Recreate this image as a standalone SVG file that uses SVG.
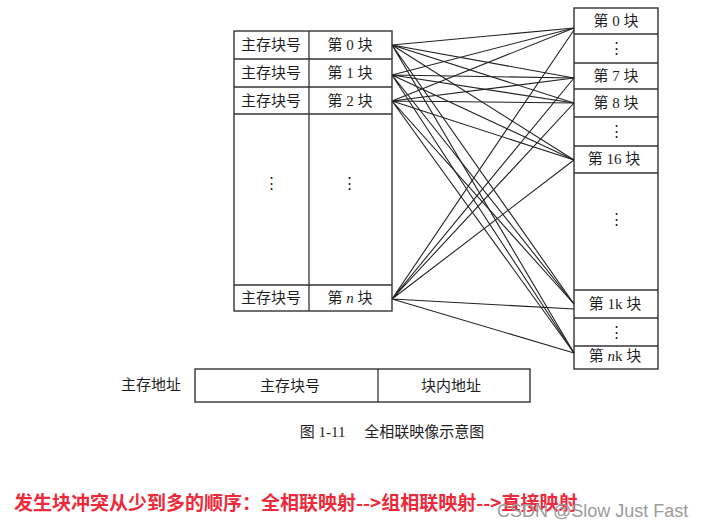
<svg xmlns="http://www.w3.org/2000/svg" width="703" height="525" viewBox="0 0 703 525">
<style>
.box{fill:#fff;stroke:#333;stroke-width:1.4}
.ln{stroke:#333;stroke-width:1.3;fill:none}
.t{font-family:"Liberation Serif","Noto Sans CJK SC",serif;font-size:15px;fill:#1e1e1e;text-anchor:middle;dominant-baseline:central}
.c{stroke:#222;stroke-width:1.1;fill:none}
.red{font-family:"Noto Sans CJK SC",sans-serif;font-size:19px;font-weight:bold;fill:#ee2a3a}
.wm{font-family:"Liberation Sans","Noto Sans",sans-serif;font-size:18px;fill:#9a9a9a}
</style>
<rect width="703" height="525" fill="#fff"/>
<g id="main-memory">
<rect class="box" x="234" y="31" width="158" height="280"/>
<line class="ln" x1="309" y1="31" x2="309" y2="311"/>
<line class="ln" x1="234" y1="59" x2="392" y2="59"/>
<line class="ln" x1="234" y1="87" x2="392" y2="87"/>
<line class="ln" x1="234" y1="114" x2="392" y2="114"/>
<line class="ln" x1="234" y1="285" x2="392" y2="285"/>
<text class="t" x="271" y="45">主存块号</text>
<text class="t" x="350" y="45">第 0 块</text>
<text class="t" x="271" y="73">主存块号</text>
<text class="t" x="350" y="73">第 1 块</text>
<text class="t" x="271" y="101">主存块号</text>
<text class="t" x="350" y="101">第 2 块</text>
<text class="t" x="271" y="183">⋮</text>
<text class="t" x="349" y="183">⋮</text>
<text class="t" x="271" y="298">主存块号</text>
<text class="t" x="350" y="298">第 <tspan font-style="italic">n</tspan> 块</text>
</g>
<g id="cache">
<rect class="box" x="574" y="8" width="84" height="361"/>
<line class="ln" x1="574" y1="34" x2="658" y2="34"/>
<line class="ln" x1="574" y1="63" x2="658" y2="63"/>
<line class="ln" x1="574" y1="89" x2="658" y2="89"/>
<line class="ln" x1="574" y1="117" x2="658" y2="117"/>
<line class="ln" x1="574" y1="146" x2="658" y2="146"/>
<line class="ln" x1="574" y1="173" x2="658" y2="173"/>
<line class="ln" x1="574" y1="290" x2="658" y2="290"/>
<line class="ln" x1="574" y1="318" x2="658" y2="318"/>
<line class="ln" x1="574" y1="346" x2="658" y2="346"/>
<text class="t" x="616" y="21">第 0 块</text>
<text class="t" x="616" y="48">⋮</text>
<text class="t" x="616" y="76">第 7 块</text>
<text class="t" x="616" y="103">第 8 块</text>
<text class="t" x="616" y="131">⋮</text>
<text class="t" x="614" y="159">第 16 块</text>
<text class="t" x="616" y="219">⋮</text>
<text class="t" x="615" y="304">第 1k 块</text>
<text class="t" x="616" y="332">⋮</text>
<text class="t" x="615" y="356">第 <tspan font-style="italic">n</tspan>k 块</text>
</g>
<g id="connectors">
<path class="c" d="M392,45 L574,28 M392,45 L574,78 M392,45 L574,103 M392,45 L574,160 M392,45 L574,304 M392,45 L574,353"/>
<path class="c" d="M392,75 L574,28 M392,75 L574,78 M392,75 L574,103 M392,75 L574,160 M392,75 L574,304 M392,75 L574,353"/>
<path class="c" d="M392,101 L574,28 M392,101 L574,78 M392,101 L574,103 M392,101 L574,160 M392,101 L574,304 M392,101 L574,353"/>
<path class="c" d="M392,299 L574,30 M392,299 L574,78 M392,299 L574,103 M392,299 L574,160 M392,299 L574,309 M392,299 L574,353"/>
</g>
<g id="address">
<rect class="box" x="195" y="369" width="335" height="33"/>
<line class="ln" x1="378" y1="369" x2="378" y2="402"/>
<text class="t" x="151" y="385">主存地址</text>
<text class="t" x="290" y="386">主存块号</text>
<text class="t" x="451" y="386">块内地址</text>
</g>
<text class="t" x="392" y="432" font-size="16">图 1-11　 全相联映像示意图</text>
<text class="red" x="14" y="510">发生块冲突从少到多的顺序：全相联映射--&gt;组相联映射--&gt;直接映射</text>
<text class="wm" x="497" y="517">CSDN @Slow Just Fast</text>
</svg>
